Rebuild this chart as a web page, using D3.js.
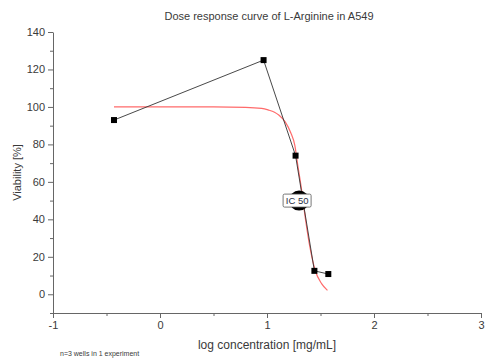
<!DOCTYPE html>
<html>
<head>
<meta charset="utf-8">
<script src="https://cdn.jsdelivr.net/npm/d3@7"></script>
<style>
  html, body { margin: 0; padding: 0; background: #fff; }
  svg { display: block; font-family: "Liberation Sans", Arial, sans-serif; }
</style>
</head>
<body>
<svg id="chart" width="487" height="363"></svg>
<script>
// ---- data ----
const title = "Dose response curve of L-Arginine in A549";
const xLabel = "log concentration [mg/mL]";
const yLabel = "Viability [%]";
const footnote = "n=3 wells in 1 experiment";

const logConc = [-0.43, 0.968, 1.267, 1.443, 1.573];
const viability = [93, 125, 74, 12.5, 10.8];

const fitX = [-0.43, 0.5, 0.8, 0.95, 1.01, 1.07, 1.11, 1.17, 1.22, 1.26, 1.29, 1.32, 1.36, 1.40, 1.45, 1.51, 1.565];
const fitY = [100, 100, 99.8, 99.2, 98.4, 97.2, 95.7, 92, 86.5, 79.5, 68, 57, 40, 25.5, 12.8, 5.7, 2.1];

const ic50 = { x: 1.30, y: 50, label: "IC 50" };

const xTicks = [-1, 0, 1, 2, 3];
const xMinor = [-0.5, 0.5, 1.5, 2.5];
const yTicks = [0, 20, 40, 60, 80, 100, 120, 140];
const yMinor = [-10, 10, 30, 50, 70, 90, 110, 130];

// ---- scales ----
const svg = d3.select("#chart");
const x = d3.scaleLinear().domain([-1, 3]).range([53, 481]);
const y = d3.scaleLinear().domain([-10, 140]).range([313, 32]);

const axisColor = "#666";
const textColor = "#3a3a3a";

// y axis
const gy = svg.append("g").attr("transform", `translate(${x(-1)},0)`);
gy.call(d3.axisLeft(y).tickValues(yTicks).tickSize(5).tickSizeOuter(0).tickPadding(3).tickFormat(d => String(d)));
gy.append("g").call(d3.axisLeft(y).tickValues(yMinor).tickSize(3).tickFormat(""))
  .select(".domain").remove();

// x axis
const gx = svg.append("g").attr("transform", `translate(0,${y(-10)})`);
gx.call(d3.axisBottom(x).tickValues(xTicks).tickSize(5).tickSizeOuter(0).tickPadding(3).tickFormat(d => String(d)));
gx.append("g").call(d3.axisBottom(x).tickValues(xMinor).tickSize(3).tickFormat(""))
  .select(".domain").remove();

svg.selectAll(".domain").attr("stroke", axisColor);
svg.selectAll(".tick line").attr("stroke", axisColor);
svg.selectAll(".tick text").attr("fill", textColor).attr("font-size", 11)
   .attr("font-family", "Liberation Sans, Arial, sans-serif");

// fit curve
const fitData = fitX.map((v, i) => [v, fitY[i]]);
svg.append("path")
  .datum(fitData)
  .attr("fill", "none")
  .attr("stroke", "#ff6b6b")
  .attr("stroke-width", 1.2)
  .attr("d", d3.line().x(d => x(d[0])).y(d => y(d[1])).curve(d3.curveMonotoneX));

// data line
const pts = logConc.map((v, i) => [v, viability[i]]);
svg.append("path")
  .datum(pts)
  .attr("fill", "none")
  .attr("stroke", "#333")
  .attr("stroke-width", 0.9)
  .attr("d", d3.line().x(d => x(d[0])).y(d => y(d[1])));

// IC50 marker
svg.append("circle")
  .attr("cx", x(ic50.x)).attr("cy", y(ic50.y)).attr("r", 10)
  .attr("fill", "#000");

// squares
svg.selectAll("rect.pt").data(pts).enter().append("rect")
  .attr("class", "pt")
  .attr("x", d => x(d[0]) - 3).attr("y", d => y(d[1]) - 3)
  .attr("width", 6).attr("height", 6)
  .attr("fill", "#000");

// IC50 label
const lbl = svg.append("g").attr("transform", `translate(${x(ic50.x) - 2},${y(ic50.y)})`);
lbl.append("rect")
  .attr("x", -14).attr("y", -6.5).attr("width", 28).attr("height", 13)
  .attr("rx", 1.5)
  .attr("fill", "#fff").attr("stroke", "#555").attr("stroke-width", 0.8);
lbl.append("text")
  .attr("text-anchor", "middle").attr("dy", "0.35em")
  .attr("font-size", 9.5).attr("fill", "#2b2f45")
  .text(ic50.label);

// title & labels
svg.append("text")
  .attr("x", 269).attr("y", 20)
  .attr("text-anchor", "middle").attr("font-size", 11).attr("fill", textColor)
  .text(title);

svg.append("text")
  .attr("transform", `translate(21,${y(65)}) rotate(-90)`)
  .attr("text-anchor", "middle").attr("font-size", 11).attr("fill", textColor)
  .text(yLabel);

svg.append("text")
  .attr("x", 267).attr("y", 349)
  .attr("text-anchor", "middle").attr("font-size", 12).attr("fill", textColor)
  .text(xLabel);

svg.append("text")
  .attr("x", 60).attr("y", 356)
  .attr("font-size", 7).attr("fill", textColor)
  .text(footnote);
</script>
</body>
</html>
